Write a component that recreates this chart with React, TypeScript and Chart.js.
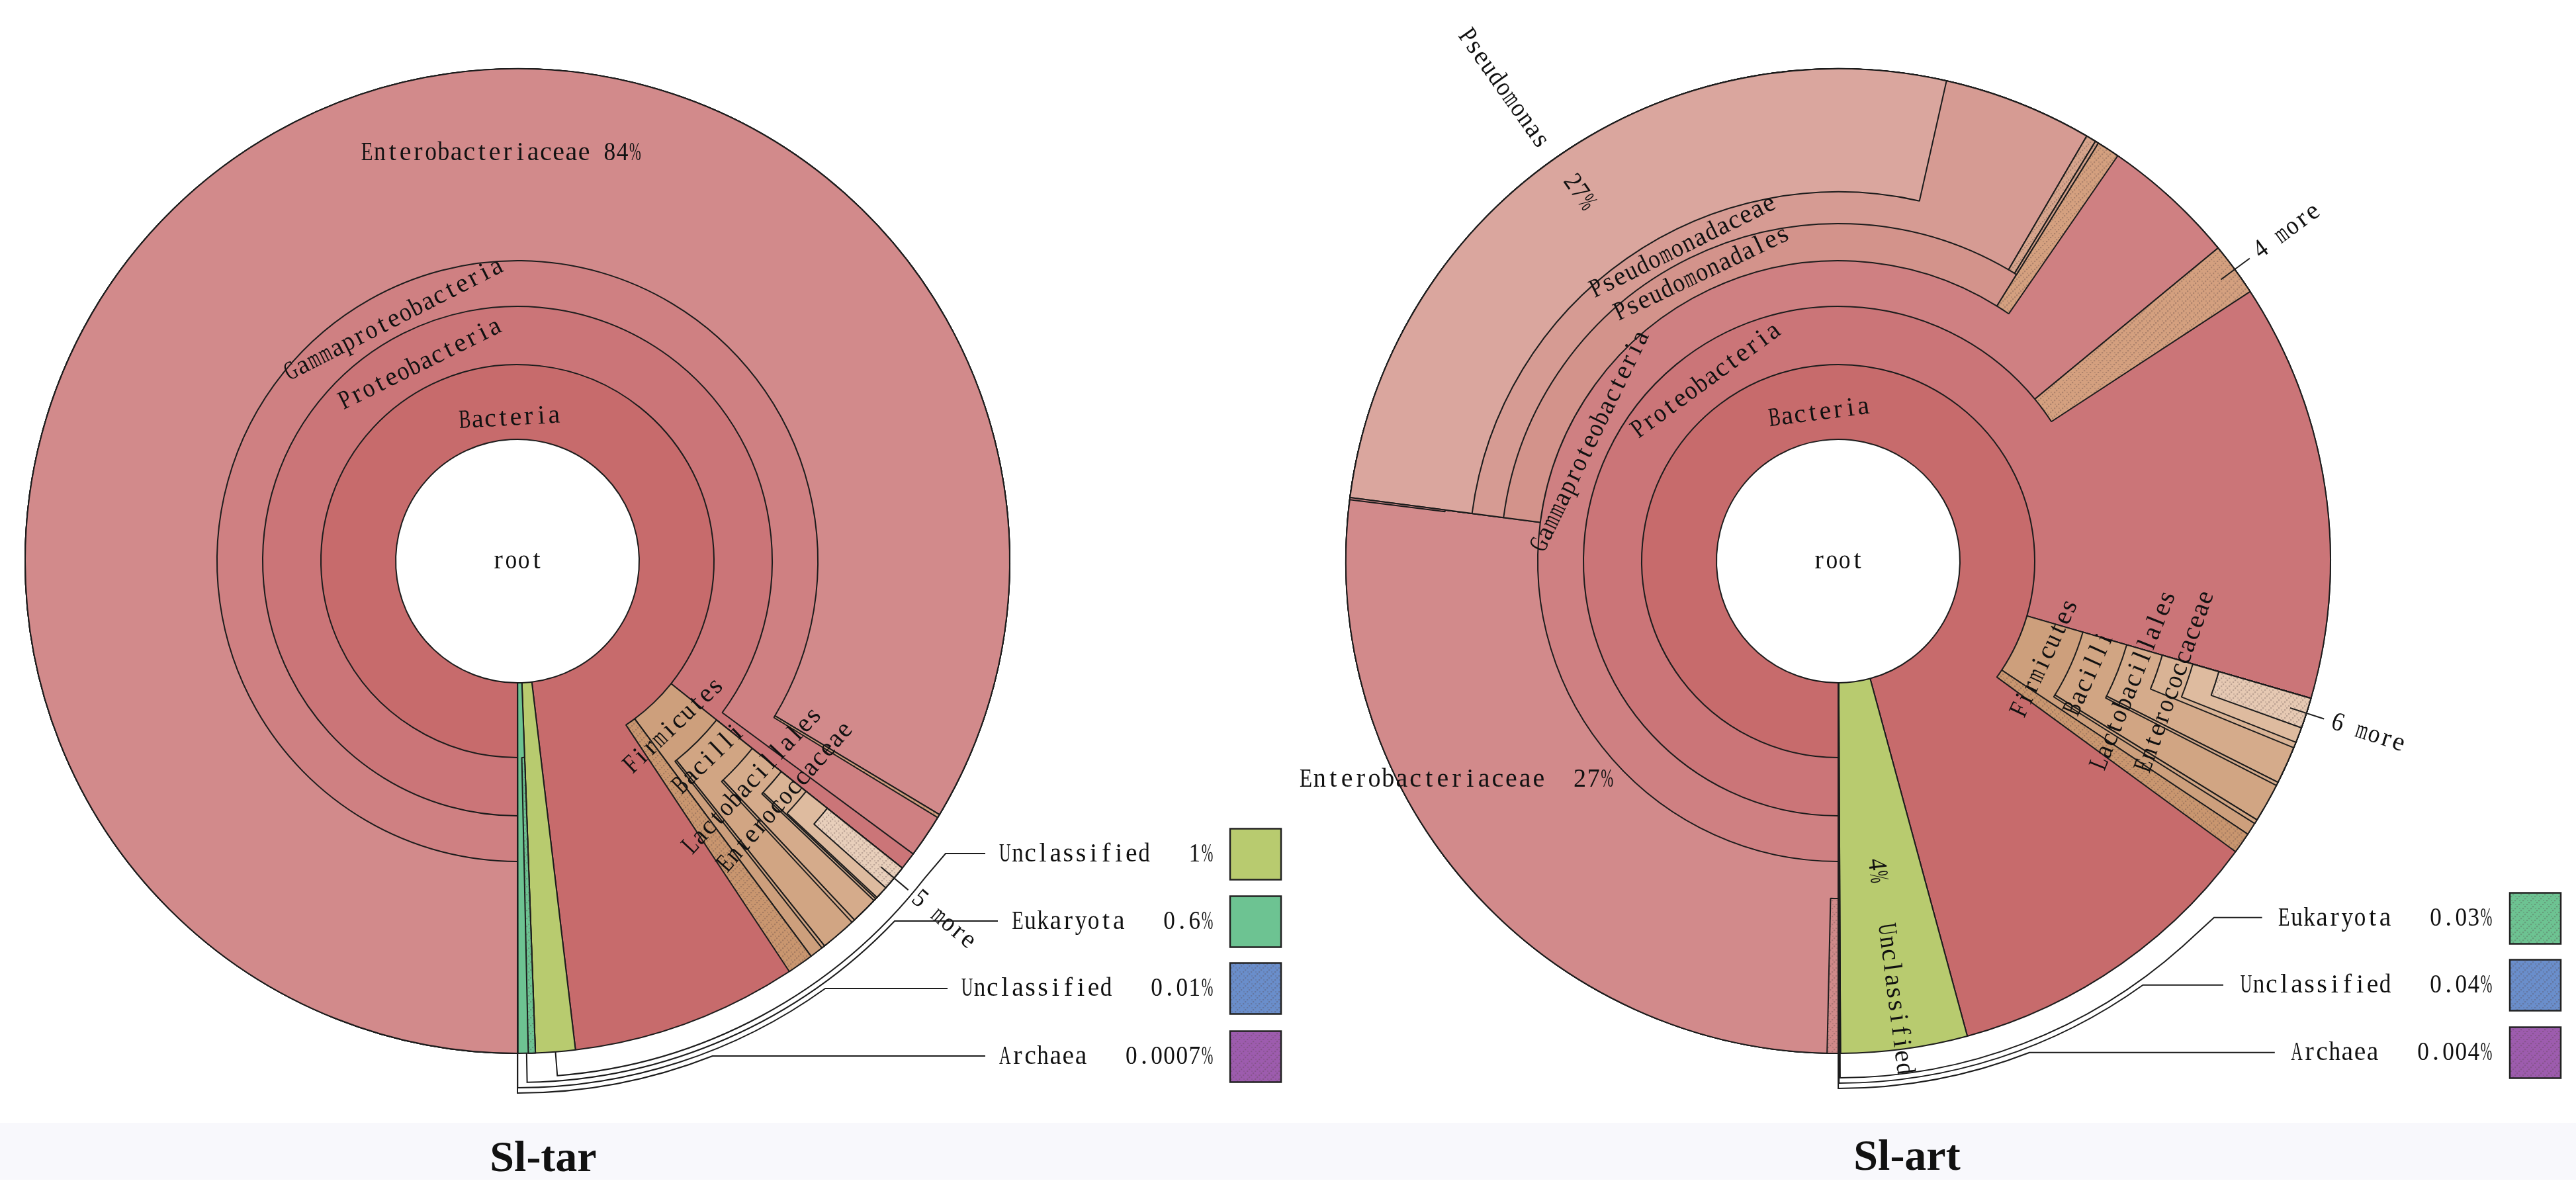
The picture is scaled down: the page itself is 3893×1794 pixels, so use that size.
import React, { useEffect, useRef } from "react";
import { Chart, registerables } from "chart.js";

Chart.register(...registerables);

type Seg = [string | null, number];

/* ===================== DATA ===================== */
// Every ring = one taxonomic depth, read clockwise from 6 o'clock.
// Values are % of all reads; null = nothing drawn at this depth.

// ---- Sl-tar ----
const TAR_DOMAIN: Seg[] = [["Bacteria", 98.1193], ["Unclassified", 1.3], ["Eukaryota", 0.57], ["Unclassified (other)", 0.01], ["Archaea", 0.0007]];
const TAR_PHYLUM: Seg[] = [["Proteobacteria", 85.72], ["Firmicutes", 4.11], ["other phyla", 0.86], [null, 8.7293], ["Eukaryota (more)", 0.23]];
const TAR_CLASS: Seg[] = [["Gammaproteobacteria", 85.14], [null, 0.58], ["Bacilli", 3.56], ["other Firmicutes", 0.11]];
const TAR_ORDER: Seg[] = [["Enterobacteriaceae", 83.61], ["other Gammaproteobacteria", 0.11], [null, 2.0], ["Lactobacillales", 2.28], ["other Bacilli", 0.11]];
const TAR_FAMILY: Seg[] = [[null, 85.72], ["Enterococcaceae", 1.31], ["other Lactobacillales", 0.08]];
const TAR_GENUS: Seg[] = [[null, 85.72], ["Enterococcus", 1.25]];
const TAR_SPECIES: Seg[] = [[null, 85.72], ["5 more", 0.83]];

const TAR_TEXT = ["root", "Bacteria", "Proteobacteria", "Gammaproteobacteria", "Enterobacteriaceae 84%", "Firmicutes", "Bacilli", "Lactobacillales", "Enterococcaceae"];
const TAR_MORE = ["5 more"];
const TAR_KEY_NODES = ["Unclassified", "Eukaryota", "Unclassified (other)", "Archaea"];
const TAR_KEY_NAMES = ["Unclassified", "Eukaryota", "Unclassified", "Archaea"];
const TAR_KEY_PCTS = ["1%", "0.6%", "0.01%", "0.0007%"];
const TAR_KEY_HATCHED = [false, false, true, true];

// ---- Sl-art ----
const ART_DOMAIN: Seg[] = [["Bacteria", 95.776], ["Unclassified", 4.15], ["Eukaryota", 0.03], ["Unclassified (other)", 0.04], ["Archaea", 0.004]];
const ART_PHYLUM: Seg[] = [["Proteobacteria", 79.5], ["Firmicutes", 4.86], ["other phyla", 0.69]];
const ART_CLASS: Seg[] = [["Gammaproteobacteria", 64.03], ["4 more", 1.75], [null, 13.72], ["Bacilli", 4.31], ["other Firmicutes", 0.14]];
const ART_ORDER: Seg[] = [["Enterobacteriaceae", 27.06], ["Pseudomonadales", 31.8], ["other Gammaproteobacteria", 0.75], [null, 19.89], ["Lactobacillales", 2.92], ["other Bacilli", 0.11]];
const ART_FAMILY: Seg[] = [["more Enterobacteriaceae", 0.36], [null, 26.7], ["Pseudomonadaceae", 31.36], ["other Pseudomonadales", 0.33], ["other Pseudomonadales", 0.11], [null, 20.64], ["Enterococcaceae", 1.69]];
const ART_GENUS: Seg[] = [[null, 27.06], ["Pseudomonas", 26.47], [null, 25.97], ["Enterococcus", 1.5]];
const ART_SPECIES: Seg[] = [[null, 26.99], ["Enterobacteriaceae sp.", 0.07], [null, 52.44], ["6 more", 1.0]];

const ART_TEXT = ["root", "Bacteria", "Proteobacteria", "Gammaproteobacteria", "Pseudomonadales", "Pseudomonadaceae", "Pseudomonas", "27%", "Enterobacteriaceae  27%", "4%", "Unclassified", "Firmicutes", "Bacilli", "Lactobacillales", "Enterococcaceae"];
const ART_MORE = ["6 more", "4 more"];
const ART_KEY_NODES = ["Eukaryota", "Unclassified (other)", "Archaea"];
const ART_KEY_NAMES = ["Eukaryota", "Unclassified", "Archaea"];
const ART_KEY_PCTS = ["0.03%", "0.04%", "0.004%"];
const ART_KEY_HATCHED = [true, true, true];

/* ===================== STYLE / LAYOUT ===================== */
const H = 1794;
const BASE_R = 744;
const ROT = 180;
const RING_INNER = [184, 297, 385, 454, 510, 558, 599];
const D = Math.PI / 180;
const FONT = '40px "Liberation Serif"';
const LINE = "#1c1c1c";

const COLORS: Record<string, string> = {
  Bacteria: "#c76b6c",
  Proteobacteria: "#cb7578",
  Gammaproteobacteria: "#cf8082",
  Enterobacteriaceae: "#d28a8b",
  "Enterobacteriaceae sp.": "#d28a8b",
  "more Enterobacteriaceae": "#d08a8a",
  Pseudomonadales: "#d3938b",
  Pseudomonadaceae: "#d69b93",
  Pseudomonas: "#daa69e",
  "other Pseudomonadales": "#d6a48c",
  Firmicutes: "#cd9f7c",
  "other phyla": "#c9966f",
  Bacilli: "#d1a583",
  "other Firmicutes": "#d1a583",
  Lactobacillales: "#d5ab8b",
  "other Bacilli": "#d5ab8b",
  Enterococcaceae: "#d9b395",
  "other Lactobacillales": "#d9b395",
  Enterococcus: "#debb9f",
  "5 more": "#e8cfbb",
  "6 more": "#e6c9b3",
  "4 more": "#d4a07f",
  "other Gammaproteobacteria": "#d4a07f",
  Unclassified: "#b8cb6f",
  Eukaryota: "#6dc392",
  "Eukaryota (more)": "#6dc392",
  "Unclassified (other)": "#6a8ecb",
  Archaea: "#9d5cae",
};
const HATCHED = new Set(["other phyla", "Eukaryota (more)", "5 more", "6 more", "4 more", "other Gammaproteobacteria", "more Enterobacteriaceae", "other Pseudomonadales", "Unclassified (other)", "Archaea"]);

type Mode = "h" | "t" | "o" | "i";
type Pos = [number, number, Mode, number?];
const TAR_TEXT_POS: Pos[] = [
  [0, 0, "h"], [216, -3.2, "t"], [332, -26.3, "t"], [410, -27.1, "t"], [616.5, -2.3, "h"],
  [343, 136.5, "t"], [416, 136, "t"], [486, 133.1, "t"], [539.5, 131.4, "t"],
];
const ART_TEXT_POS: Pos[] = [
  [0, 0, "h"], [226, -7.4, "t"], [338, -36.2, "t"], [416, -64.2, "t"], [481, -25.4, "t"], [530, -26.3, "t"],
  [875, -35.3, "i"], [681, -35.1, "i"], [664.7, 240.2, "h", 20.7], [471.6, 172.9, "o"], [667.6, 172.6, "o"],
  [345, 115.2, "t"], [416, 114.2, "t"], [481.5, 112, "t"], [540.6, 109.7, "t"],
];
type KeyLay = { r: number; rowDy?: number; endDx: number; bend?: [number, number]; thBend?: number };
const TAR_KEY_LAYOUT: KeyLay[] = [
  { r: 780, thBend: 127.9, bend: [647, 442], endDx: 707 },
  { r: 788, rowDy: 544, endDx: 726 },
  { r: 796, rowDy: 646, endDx: 650 },
  { r: 804, rowDy: 748, endDx: 707 },
];
const ART_KEY_LAYOUT: KeyLay[] = [
  { r: 781, thBend: 138.2, bend: [568, 538.7], endDx: 640.6 },
  { r: 789, rowDy: 640.7, endDx: 582 },
  { r: 797, rowDy: 742.7, endDx: 659.8 },
];

interface Panel {
  rings: Seg[][];
  left: number; width: number; cx: number; cy: number;
  text: string[]; textPos: Pos[];
  more: string[];
  keyNodes: string[]; keyNames: string[]; keyPcts: string[]; keyHatched: boolean[]; keyLayout: KeyLay[];
  legendRows: number[]; legendTextRight: number; legendBoxLeft: number;
  title: string; titleX: number; titleY: number;
}

const PANELS: Panel[] = [
  {
    rings: [TAR_DOMAIN, TAR_PHYLUM, TAR_CLASS, TAR_ORDER, TAR_FAMILY, TAR_GENUS, TAR_SPECIES],
    left: 0, width: 1946, cx: 782, cy: 848,
    text: TAR_TEXT, textPos: TAR_TEXT_POS, more: TAR_MORE,
    keyNodes: TAR_KEY_NODES, keyNames: TAR_KEY_NAMES, keyPcts: TAR_KEY_PCTS, keyHatched: TAR_KEY_HATCHED, keyLayout: TAR_KEY_LAYOUT,
    legendRows: [443, 545, 646, 749], legendTextRight: 1052, legendBoxLeft: 1077,
    title: "Sl-tar", titleX: 821, titleY: 1770,
  },
  {
    rings: [ART_DOMAIN, ART_PHYLUM, ART_CLASS, ART_ORDER, ART_FAMILY, ART_GENUS, ART_SPECIES],
    left: 1946, width: 1947, cx: 832, cy: 848,
    text: ART_TEXT, textPos: ART_TEXT_POS, more: ART_MORE,
    keyNodes: ART_KEY_NODES, keyNames: ART_KEY_NAMES, keyPcts: ART_KEY_PCTS, keyHatched: ART_KEY_HATCHED, keyLayout: ART_KEY_LAYOUT,
    legendRows: [540, 641, 743], legendTextRight: 989, legendBoxLeft: 1015,
    title: "Sl-art", titleX: 936, titleY: 1768,
  },
];

/* ===================== HELPERS ===================== */
function makeHatch(base: string): any {
  const c = document.createElement("canvas");
  c.width = 12; c.height = 12;
  const g = c.getContext("2d");
  if (!g) return base;
  g.fillStyle = base;
  g.fillRect(0, 0, 12, 12);
  g.fillStyle = "rgba(85,65,65,0.30)";
  for (let i = 0; i < 4; i++) {
    const x = i * 3, y = 10 - i * 3;
    g.fillRect(x, y, 2.2, 2.2);
  }
  g.fillStyle = "rgba(85,65,65,0.18)";
  g.fillRect(7, 10, 2, 2);
  g.fillRect(1, 4, 2, 2);
  return g.createPattern(c, "repeat") || base;
}

function norm(th: number) {
  return ((th % 360) + 360) % 360;
}

function nodeSpan(rings: Seg[][], name: string): [number, number] | null {
  for (const ring of rings) {
    let acc = 0;
    for (const [n, v] of ring) {
      if (n === name) return [ROT + acc * 3.6, ROT + (acc + v) * 3.6];
      acc += v;
    }
  }
  return null;
}

function rotFor(mode: Mode, th: number) {
  let t = norm(th);
  if (t > 180) t -= 360;
  if (mode === "h") return 0;
  if (mode === "o") return t - 90;
  if (mode === "i") return t + 90;
  if (t >= 90) return t - 180;
  if (t <= -90) return t + 180;
  return t;
}

// Draw text as a fixed-pitch string (each glyph in its own cell, wide glyphs squeezed to fit)
function mono(ctx: CanvasRenderingContext2D, text: string, x: number, y: number, rot: number, align: "left" | "center" | "right", cw = 19.3) {
  ctx.save();
  ctx.translate(x, y);
  ctx.rotate(rot * D);
  ctx.font = FONT;
  ctx.textAlign = "center";
  ctx.textBaseline = "middle";
  ctx.fillStyle = "#111";
  const W = text.length * cw;
  const x0 = align === "left" ? 0 : align === "center" ? -W / 2 : -W;
  for (let i = 0; i < text.length; i++) {
    const ch = text[i];
    if (ch === " ") continue;
    const w = ctx.measureText(ch).width;
    const sx = Math.min(1, (cw * 0.92) / Math.max(w, 1));
    ctx.save();
    ctx.translate(x0 + (i + 0.5) * cw, 0);
    ctx.scale(sx, 1);
    ctx.fillText(ch, 0, 0);
    ctx.restore();
  }
  ctx.restore();
}

function buildConfig(P: Panel): any {
  const pats = new Map<string, any>();
  const hatchOf = (c: string) => {
    if (!pats.has(c)) pats.set(c, makeHatch(c));
    return pats.get(c);
  };
  const fill = (name: string) => {
    const c = COLORS[name] || "#cccccc";
    return HATCHED.has(name) ? hatchOf(c) : c;
  };

  const datasets = P.rings.slice().reverse().map((ring) => {
    const segs: Seg[] = ring.slice();
    const s = segs.reduce((a, b) => a + b[1], 0);
    if (s < 99.99999) segs.push([null, 100 - s]);
    return {
      data: segs.map((x) => x[1]),
      backgroundColor: segs.map((x) => (x[0] ? fill(x[0]) : "rgba(0,0,0,0)")),
      borderColor: LINE,
      borderWidth: segs.map((x) => (x[0] ? 2 : 0)),
      borderAlign: "center",
      hoverOffset: 0,
      offset: 0,
    };
  });

  const plugin = {
    id: "krona",
    afterDatasetsUpdate(chart: any) {
      const n = chart.data.datasets.length;
      const R = chart.getDatasetMeta(0).controller.outerRadius;
      const k = R / BASE_R;
      for (let i = 0; i < n; i++) {
        const level = n - 1 - i;
        const meta = chart.getDatasetMeta(i);
        for (const el of meta.data as any[]) {
          el.innerRadius = RING_INNER[level] * k;
          el.outerRadius = R;
        }
      }
    },
    beforeDraw(chart: any) {
      const ctx = chart.ctx;
      ctx.save();
      ctx.fillStyle = "#f8f8fc";
      ctx.fillRect(0, 1697, chart.width, 86);
      ctx.restore();
    },
    afterDraw(chart: any) {
      const ctx: CanvasRenderingContext2D = chart.ctx;
      const n = chart.data.datasets.length;
      const el = chart.getDatasetMeta(n - 1).data[0];
      const cx = el.x, cy = el.y;
      const R = chart.getDatasetMeta(0).controller.outerRadius;
      const k = R / BASE_R;
      const pt = (r: number, th: number): [number, number] => [cx + r * k * Math.sin(th * D), cy - r * k * Math.cos(th * D)];

      ctx.save();
      // text labels
      P.text.forEach((t, i) => {
        const [r, th, mode, cw] = P.textPos[i];
        const [x, y] = pt(r, th);
        mono(ctx, t, x, y, rotFor(mode, th), "center", cw || 19.3);
      });

      ctx.strokeStyle = LINE;
      ctx.lineWidth = 2;
      // "N more" callouts
      for (const name of P.more) {
        const sp = nodeSpan(P.rings, name);
        if (!sp) continue;
        const th = norm((sp[0] + sp[1]) / 2);
        const a = pt(718, th), b = pt(772, th);
        ctx.beginPath();
        ctx.moveTo(a[0], a[1]);
        ctx.lineTo(b[0], b[1]);
        ctx.stroke();
        const c = pt(784, th);
        mono(ctx, name, c[0], c[1], th - 90, "left", 19.3);
      }

      // key leaders
      P.keyNodes.forEach((name, i) => {
        const sp = nodeSpan(P.rings, name);
        const L = P.keyLayout[i];
        if (!sp || !L) return;
        const th = norm((sp[0] + sp[1]) / 2);
        const a = pt(BASE_R, th), b = pt(L.r, th);
        const thEnd = L.bend ? (L.thBend as number) : Math.acos(-(L.rowDy as number) / L.r) / D;
        ctx.beginPath();
        ctx.moveTo(a[0], a[1]);
        ctx.lineTo(b[0], b[1]);
        ctx.arc(cx, cy, L.r * k, (th - 90) * D, (thEnd - 90) * D, true);
        if (L.bend) {
          ctx.lineTo(cx + L.bend[0] * k, cy + L.bend[1] * k);
          ctx.lineTo(cx + L.endDx * k, cy + L.bend[1] * k);
        } else {
          ctx.lineTo(cx + L.endDx * k, cy + (L.rowDy as number) * k);
        }
        ctx.stroke();
      });

      // legend
      P.keyNames.forEach((nm, i) => {
        const y = cy + P.legendRows[i] * k;
        mono(ctx, `${nm}   ${P.keyPcts[i]}`, cx + P.legendTextRight * k, y, 0, "right", 19.1);
        const c = COLORS[P.keyNodes[i]];
        const bx = cx + P.legendBoxLeft * k, by = y - 38.5 * k, s = 77 * k;
        ctx.fillStyle = P.keyHatched[i] ? hatchOf(c) : c;
        ctx.fillRect(bx, by, s, s);
        ctx.lineWidth = 2.5;
        ctx.strokeStyle = "#222";
        ctx.strokeRect(bx, by, s, s);
      });

      // title
      ctx.font = 'bold 66px "Liberation Serif"';
      ctx.textAlign = "center";
      ctx.textBaseline = "alphabetic";
      ctx.fillStyle = "#111";
      ctx.fillText(P.title, P.titleX, P.titleY);
      ctx.restore();
    },
  };

  return {
    type: "doughnut",
    data: { labels: [], datasets },
    options: {
      responsive: false,
      maintainAspectRatio: false,
      animation: false,
      devicePixelRatio: 1,
      events: [],
      rotation: ROT,
      circumference: 360,
      cutout: "24.7%",
      layout: {
        padding: {
          left: P.cx - BASE_R - 1,
          right: P.width - (P.cx + BASE_R + 1),
          top: P.cy - BASE_R - 1,
          bottom: H - (P.cy + BASE_R + 1),
        },
      },
      plugins: { legend: { display: false }, tooltip: { enabled: false }, title: { display: false } },
    },
    plugins: [plugin],
  };
}

function Krona({ panel }: { panel: Panel }) {
  const ref = useRef<HTMLCanvasElement>(null);
  useEffect(() => {
    if (!ref.current) return;
    const chart = new Chart(ref.current, buildConfig(panel));
    return () => chart.destroy();
  }, [panel]);
  return (
    <canvas
      ref={ref}
      width={panel.width}
      height={H}
      style={{ position: "absolute", left: panel.left, top: 0, width: panel.width, height: H }}
    />
  );
}

export default function App() {
  return (
    <div style={{ position: "fixed", left: 0, top: 0, width: 3893, height: H, background: "#ffffff", overflow: "hidden" }}>
      {PANELS.map((p, i) => (
        <Krona key={i} panel={p} />
      ))}
    </div>
  );
}
